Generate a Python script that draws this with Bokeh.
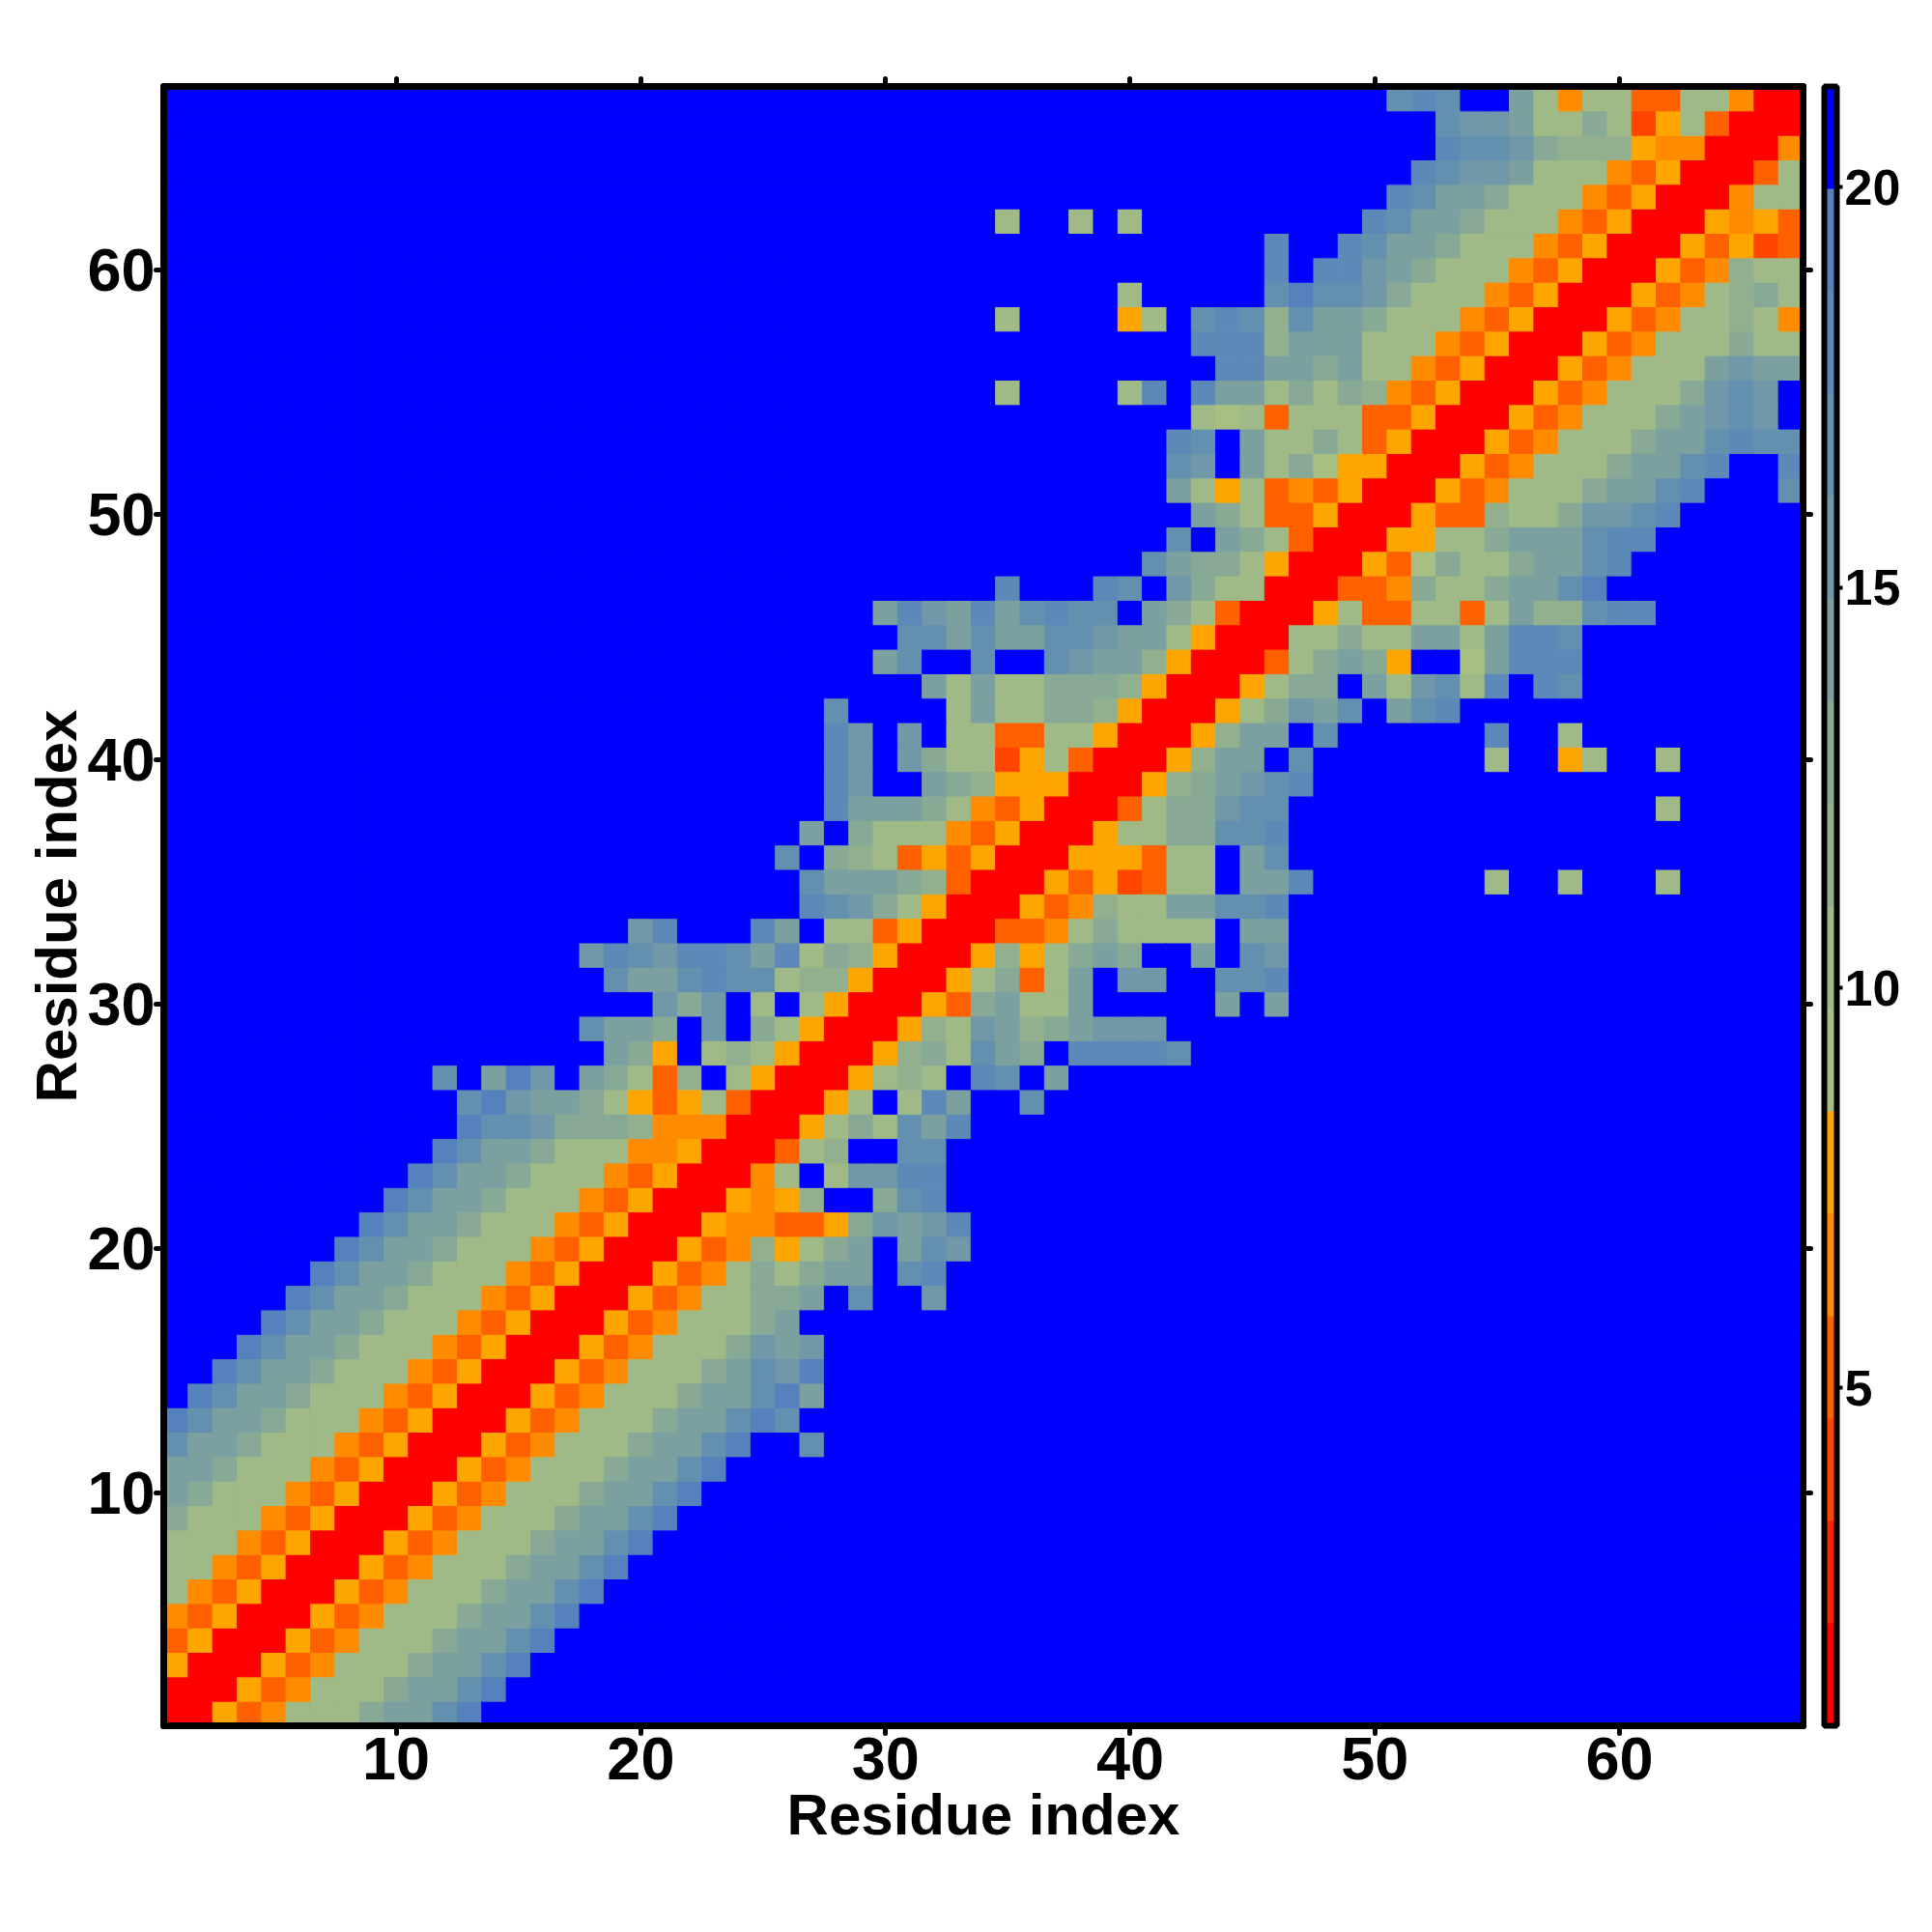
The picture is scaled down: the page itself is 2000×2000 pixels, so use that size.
from bokeh.plotting import figure
from bokeh.models import (ColumnDataSource, LinearColorMapper, ColorBar, FixedTicker,
                          LinearAxis, Range1d)
from bokeh.transform import transform
from bokeh.embed import file_html
from bokeh.resources import INLINE

# Palette of the 16 distance bins (red = close, blue = far)
palette = ["#ff0000", "#ff2000", "#ff4500", "#ff6000", "#ff8c00", "#ffa500",
           "#a8bf82", "#9fba86", "#93b08e", "#87a996", "#7ca09f", "#7098a8",
           "#6490b0", "#5c89b8", "#5582bd", "#0000ff"]
low_dist = 0.78
high_dist = 21.26
x_ticks = [10, 20, 30, 40, 50, 60]
bar_ticks = [5, 10, 15, 20]
axis_title = "Residue index"

# Contact-map bins, symmetric: entry y-1 holds the row for residue y,
# right-aligned so that its last character is the diagonal cell x = y.
# Digits are bin numbers in hex; cells left of the string are bin f.
rows = [
    "0", "00", "500", "3500", "43500", "743500", "7743500", "77743500",
    "977743500", "a977743500", "aa977743500", "caa977743500",
    "ecaa977743500", "ecaa977743500", "ecaa977743500", "ecaa977743500",
    "ecaa977743500", "ecaa977743500", "ecaa977743500", "ecaa977743500",
    "ecaa977743500", "ecaa977743500", "ecaa977743500",
    "ecaa977744500",                # 24
    "eccb999844400",                # 25
    "cebaa975357300",               # 26
    "cfaebfa9738f7500",             # 27
    "a95f787500",                   # 28
    "caa9fbf97500",                 # 29
    "b9bf7f7500",                   # 30
    "caacdcc788500",                # 31
    "bdcbddcad798500",              # 32
    "bdfffdaf773500",               # 33
    "dcb97500",                     # 34
    "caaa98300",                    # 35
    "cf987353500",                  # 36
    "af977743500",                  # 37
    "daaa9743500",                  # 38
    "dbffa9855500",                 # 39
    "dbfb977257300",                # 40
    "dbfbf773377500",               # 41
    "cffff7a77998500",              # 42
    "a7a779998500",                 # 43
    "acffcffcbaa8500",              # 44
    "ccacaaccbaa7500",              # 45
    "adbadacdccfa97300",            # 46
    "dfffdcfb97700",                # 47
    "ca997500",                     # 48
    "cfa97300",                     # 49
    "a9733500",                     # 50
    "a757343500",                   # 51
    "cbfa7965500",                  # 52
    "dcfa77973500",                 # 53
    "767377733500",                 # 54
    "7ffff7dfdaa7979843500",        # 55
    "ddaa9a7743500",                # 56
    "ddd8aaa77743500",              # 57
    "7ffff57fcdc8caa977743500",     # 58
    "7fffffceccb977743500",         # 59
    "dfddba977743500",              # 60
    "dffdcaa977743500",             # 61
    "7ff7f7fffffffffdcaa977743500", # 62
    "dcaa977743500",                # 63
    "dcbba77743500",                # 64
    "dccb988854400",                # 65
    "cbba7797257300",               # 66
    "cdcffa74773377400",            # 67
]

N = len(rows)
xs, ys, vals = [], [], []
for i, row in enumerate(rows):
    y = i + 1
    padded = "f" * (y - len(row)) + row
    for j, ch in enumerate(padded):
        x = j + 1
        v = low_dist + (high_dist - low_dist) / 16 * (int(ch, 16) + 0.5)
        xs.append(x); ys.append(y); vals.append(v)
        if x != y:
            xs.append(y); ys.append(x); vals.append(v)

src = ColumnDataSource(dict(x=xs, y=ys, v=vals))
mapper = LinearColorMapper(palette=palette, low=low_dist, high=high_dist)

FONT = "Liberation Sans"
p = figure(frame_width=1697, frame_height=1697,
           x_range=Range1d(0.5, N + 0.5), y_range=Range1d(0.5, N + 0.5),
           output_backend="svg", toolbar_location=None,
           min_border_left=169, min_border_top=89, min_border_bottom=120,
           min_border_right=10, background_fill_color="white",
           x_axis_label=axis_title, y_axis_label=axis_title)
p.grid.visible = False
p.outline_line_color = None

p.rect("x", "y", width=1, height=1, source=src,
       fill_color=transform("v", mapper), line_color=transform("v", mapper),
       line_width=1)

for side in ("above", "right"):
    p.add_layout(LinearAxis(), side)
for ax in p.axis:
    ax.ticker = FixedTicker(ticks=x_ticks)
    ax.axis_line_color = "black"
    ax.axis_line_width = 7
    ax.axis_line_cap = "round"
    ax.major_tick_line_color = "black"
    ax.major_tick_line_width = 5
    ax.major_tick_line_cap = "round"
    ax.major_tick_in = 0
    ax.major_tick_out = 8
    ax.minor_tick_line_color = None
    ax.major_label_text_color = "black"
    ax.major_label_text_font = FONT
    ax.major_label_text_font_style = "bold"
    ax.major_label_text_font_size = "63px"
    ax.major_label_standoff = 1
    ax.axis_label_text_color = "black"
    ax.axis_label_text_font = FONT
    ax.axis_label_text_font_style = "bold"
    ax.axis_label_text_font_size = "60px"
    ax.axis_label_standoff = 0
p.yaxis[0].axis_label_standoff = -5
p.below[0].major_label_standoff = 4
for ax in p.above + p.right:
    ax.major_label_text_color = None
    ax.major_label_text_font_size = "0px"
    ax.major_label_standoff = 0

cb = ColorBar(color_mapper=mapper, ticker=FixedTicker(ticks=bar_ticks),
              location=(14, 0), width=13, height=1697, margin=0, padding=0,
              bar_line_color="black", bar_line_width=6,
              major_tick_line_color="black", major_tick_line_width=4,
              major_tick_in=0, major_tick_out=6, minor_tick_line_color=None,
              label_standoff=2, major_label_text_font=FONT,
              major_label_text_color="black",
              major_label_text_font_style="bold",
              major_label_text_font_size="52px")
p.add_layout(cb, "right")

open("out.html", "w").write(file_html(p, INLINE))
